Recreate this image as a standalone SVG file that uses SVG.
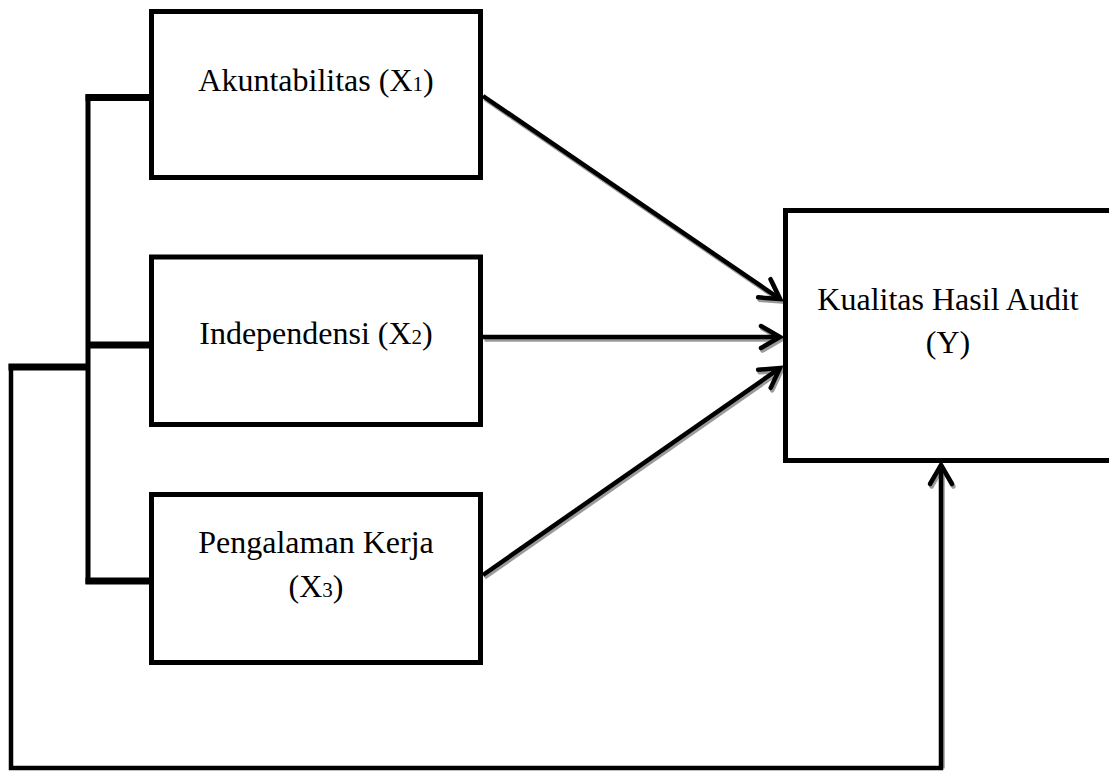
<svg xmlns="http://www.w3.org/2000/svg" width="1109" height="774" viewBox="0 0 1109 774">
  <style>
    .box { fill: #ffffff; stroke: #000000; stroke-width: 5; }
    .lbl { font-family: "Liberation Serif", "Times New Roman", serif; font-size: 32px; fill: #000000; text-anchor: middle; }
    .sub { font-size: 21px; }
    .conn { fill: none; stroke: #000000; stroke-width: 4.5; stroke-linecap: butt; stroke-linejoin: miter; }
    .bracket { fill: none; stroke: #000000; stroke-width: 5; }
    .stub { fill: none; stroke: #000000; stroke-width: 7; }
    .shadow { fill: none; stroke: #9a9a9a; stroke-width: 4.5; }
  </style>
  <defs>
    <marker id="arrow" markerUnits="userSpaceOnUse" markerWidth="40" markerHeight="40" refX="0" refY="0" viewBox="-25 -20 40 40" orient="auto" overflow="visible">
      <path d="M -19 -11 L 0 0 L -19 11" fill="none" stroke="#000000" stroke-width="4.5" stroke-linecap="round" stroke-linejoin="miter"/>
    </marker>
    <marker id="arrowShadow" markerUnits="userSpaceOnUse" markerWidth="40" markerHeight="40" refX="0" refY="0" viewBox="-25 -20 40 40" orient="auto" overflow="visible">
      <path d="M -19 -11 L 0 0 L -19 11" fill="none" stroke="#9a9a9a" stroke-width="4.5" stroke-linecap="round"/>
    </marker>
  </defs>
  <rect width="1109" height="774" fill="#ffffff"/>

  <g id="connectors">
    <g id="shadows" transform="translate(1.5,2.5)">
      <line class="shadow" x1="483" y1="96" x2="780" y2="299" marker-end="url(#arrowShadow)"/>
      <line class="shadow" x1="483" y1="337" x2="780" y2="337" marker-end="url(#arrowShadow)"/>
      <line class="shadow" x1="483" y1="575" x2="780" y2="368" marker-end="url(#arrowShadow)"/>
      <line class="shadow" x1="941" y1="766" x2="941" y2="465" marker-end="url(#arrowShadow)"/>
    </g>
    <path class="bracket" d="M 88 94.5 V 584"/>
    <path class="stub" d="M 85.5 97.5 H 149 M 88 345 H 149 M 85.5 581 H 149 M 88 367 H 8.5"/>
    <path class="conn" d="M 11 364 V 768 H 941 V 465" marker-end="url(#arrow)"/>
    <line class="conn" x1="483" y1="96" x2="780" y2="299" marker-end="url(#arrow)"/>
    <line class="conn" x1="483" y1="337" x2="780" y2="337" marker-end="url(#arrow)"/>
    <line class="conn" x1="483" y1="575" x2="780" y2="368" marker-end="url(#arrow)"/>
  </g>

  <g id="node-x1">
    <rect class="box" x="151.5" y="11.5" width="329" height="166"/>
    <text class="lbl" x="316" y="91">Akuntabilitas (X<tspan class="sub">1</tspan>)</text>
  </g>
  <g id="node-x2">
    <rect class="box" x="151.5" y="257" width="329" height="167.5"/>
    <text class="lbl" x="316" y="344">Independensi (X<tspan class="sub">2</tspan>)</text>
  </g>
  <g id="node-x3">
    <rect class="box" x="151.5" y="494.5" width="329" height="168"/>
    <text class="lbl" x="316" y="553">Pengalaman Kerja</text>
    <text class="lbl" x="316" y="597">(X<tspan class="sub">3</tspan>)</text>
  </g>
  <g id="node-y">
    <rect class="box" x="785.5" y="210.5" width="340" height="250"/>
    <text class="lbl" x="948" y="310">Kualitas Hasil Audit</text>
    <text class="lbl" x="948" y="353">(Y)</text>
  </g>
</svg>
